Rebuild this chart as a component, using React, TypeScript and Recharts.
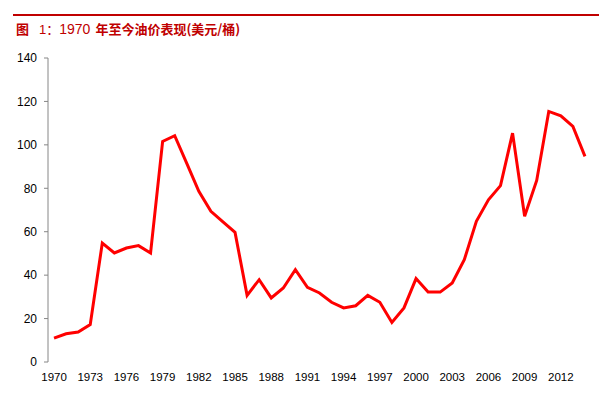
import { Line, LineChart, XAxis, YAxis } from "recharts";

const years = [
  1970, 1971, 1972, 1973, 1974, 1975, 1976, 1977, 1978, 1979,
  1980, 1981, 1982, 1983, 1984, 1985, 1986, 1987, 1988, 1989,
  1990, 1991, 1992, 1993, 1994, 1995, 1996, 1997, 1998, 1999,
  2000, 2001, 2002, 2003, 2004, 2005, 2006, 2007, 2008, 2009,
  2010, 2011, 2012, 2013, 2014,
];

const prices = [
  11.0, 13.0, 13.8, 17.2, 54.8, 50.2, 52.5, 53.6, 50.2, 101.6,
  104.2, 91.5, 78.6, 69.4, 64.5, 59.7, 30.7, 37.9, 29.5, 34.1,
  42.5, 34.4, 31.8, 27.5, 24.9, 25.9, 30.7, 27.5, 18.2, 24.9,
  38.4, 32.2, 32.2, 36.4, 47.1, 64.8, 74.7, 81.2, 105.4, 67.1,
  83.6, 115.4, 113.4, 108.5, 94.7,
];

const xLabels = [
  1970, 1973, 1976, 1979, 1982, 1985, 1988, 1991, 1994, 1997, 2000, 2003,
  2006, 2009, 2012,
];

const yTicks = [0, 20, 40, 60, 80, 100, 120, 140];

const data = years.map((year, i) => ({ year, price: prices[i] }));

// tick marks sit between the years, like an Excel category axis
const boundaries = [...years.map((y) => y - 0.5), years[years.length - 1] + 0.5];
const domain: [number, number] = [boundaries[0], boundaries[boundaries.length - 1]];

const axisColor = "#868686";
const font = "'Liberation Sans', Arial, sans-serif";
const cjk = "'Noto Sans CJK SC', sans-serif";
const titleRed = "#C00000";

export default function App() {
  return (
    <div
      style={{
        position: "absolute",
        left: 0,
        top: 0,
        width: 599,
        height: 399,
        background: "#fff",
        fontFamily: font,
      }}
    >
      <div
        style={{
          position: "absolute",
          left: 13,
          right: 0,
          top: 14,
          height: 2,
          background: titleRed,
        }}
      />
      <div
        style={{
          position: "absolute",
          left: 16,
          top: 20,
          fontSize: 13,
          lineHeight: "18px",
          color: titleRed,
          whiteSpace: "nowrap",
        }}
      >
        <span style={{ fontFamily: cjk, fontWeight: 700 }}>图</span>
        <span style={{ fontFamily: font, marginLeft: 10 }}>1</span>
        <span style={{ fontFamily: cjk }}>：</span>
        <span style={{ fontFamily: font, fontSize: 14 }}>1970</span>
        <span style={{ fontFamily: cjk, fontWeight: 700, marginLeft: 5 }}>
          年至今油价表现(美元/桶)
        </span>
      </div>
      <LineChart
        width={599}
        height={399}
        data={data}
        margin={{ top: 58, right: 8, left: 0, bottom: 0 }}
        style={{ position: "absolute", left: 0, top: 0 }}
      >
        <XAxis
          xAxisId="ticks"
          dataKey="year"
          type="number"
          domain={domain}
          ticks={boundaries}
          interval={0}
          height={0}
          stroke={axisColor}
          tickSize={4}
          tickFormatter={() => ""}
        />
        <XAxis
          xAxisId="labels"
          dataKey="year"
          type="number"
          domain={domain}
          ticks={xLabels}
          interval={0}
          height={37}
          axisLine={false}
          tickLine={false}
          tickSize={4}
          tickMargin={7}
          tick={{ fill: "#000", fontSize: 11.5, fontFamily: font }}
        />
        <YAxis
          domain={[0, 140]}
          ticks={yTicks}
          interval={0}
          width={48}
          stroke={axisColor}
          tickSize={4}
          tickMargin={7}
          tick={{ fill: "#000", fontSize: 12, fontFamily: font }}
        />
        <Line
          xAxisId="labels"
          type="linear"
          dataKey="price"
          stroke="#FF0000"
          strokeWidth={3}
          dot={false}
          isAnimationActive={false}
        />
      </LineChart>
    </div>
  );
}
